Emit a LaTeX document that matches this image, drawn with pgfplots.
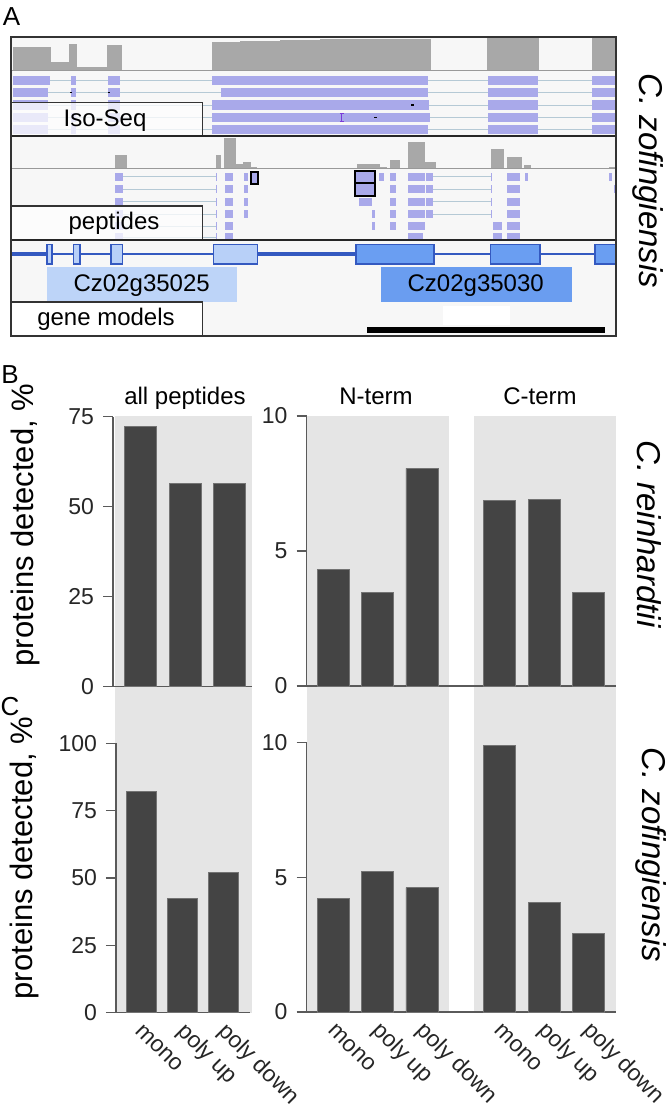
\documentclass[border=0pt]{standalone}
\usepackage{fontspec}
\setmainfont{Liberation Sans}
\usepackage{pgfplots}
\pgfplotsset{compat=1.18}

\definecolor{bgA}{HTML}{F7F7F7}
\definecolor{cov}{HTML}{A8A8A8}
\definecolor{rd}{HTML}{A9A9EA}
\definecolor{rdline}{HTML}{B5C9D5}
\definecolor{gm}{HTML}{3459C0}
\definecolor{exL}{HTML}{B8D0F8}
\definecolor{exD}{HTML}{6A9EF2}
\definecolor{nameL}{HTML}{BDD4F8}
\definecolor{nameD}{HTML}{6A9DF0}
\definecolor{panelbg}{HTML}{E5E5E5}
\definecolor{barc}{HTML}{444444}
\definecolor{axc}{HTML}{5A5A5A}
\definecolor{ins}{HTML}{7A3BD8}

\newcommand{\R}[5]{\addplot[draw=none,fill=#5,forget plot] coordinates {(#1,#2) (#3,#2) (#3,#4) (#1,#4)} -- cycle;}
\newcommand{\RB}[5]{\addplot[#5,forget plot] coordinates {(#1,#2) (#3,#2) (#3,#4) (#1,#4)} -- cycle;}
\newcommand{\HL}[4]{\addplot[#4,forget plot] coordinates {(#1,#3) (#2,#3)};}
% iso-seq row: top, bottom, center, first block end, big block start, big block end
\newcommand{\iso}[6]{%
  \HL{12.7}{615}{#3}{draw=rdline, line width=0.5pt}
  \R{12.7}{#1}{#4}{#2}{rd}
  \R{71}{#1}{76.3}{#2}{rd}
  \R{108}{#1}{120}{#2}{rd}
  \R{#5}{#1}{#6}{#2}{rd}
  \R{487.7}{#1}{538.3}{#2}{rd}
  \R{592.3}{#1}{615}{#2}{rd}}
% peptide rows
\newcommand{\PRa}[2]{\R{#1}{172.7}{#2}{180.7}{rd}}
\newcommand{\PRb}[2]{\R{#1}{185}{#2}{193}{rd}}
\newcommand{\PRc}[2]{\R{#1}{197.7}{#2}{205.7}{rd}}
\newcommand{\PRd}[2]{\R{#1}{210}{#2}{218}{rd}}
\newcommand{\PRe}[2]{\R{#1}{222.3}{#2}{230.3}{rd}}
\newcommand{\PRf}[2]{\R{#1}{233.3}{#2}{240}{rd}}

\newcommand{\fA}{\fontsize{12}{14}\selectfont}
\newcommand{\fT}{\fontsize{12}{14}\selectfont}
\newcommand{\fL}{\fontsize{13}{15}\selectfont}
\newcommand{\fS}{\fontsize{16.5}{19}\selectfont\itshape}
\newcommand{\fY}{\fontsize{15.5}{18}\selectfont}
\newcommand{\fK}{\fontsize{11.5}{13}\selectfont}

\pgfplotsset{
  baraxis/.style={scale only axis, ybar, ymin=0, axis lines*=left,
    axis line style={axc, line width=0.7pt},
    every tick/.style={axc, line width=0.7pt},
    tick align=outside, major tick length=5pt,
    xtick=\empty, ytick pos=left,
    tick label style={font=\fK, text=black!85},
    yticklabel style={xshift=-1pt},
    /pgf/number format/assume math mode=true,
    clip=false, enlargelimits=false},
  barplot/.style={fill=barc, draw=barc!75!white, line width=0.4pt},
  xlab/.style={xtick style={draw=none},
    xticklabel style={rotate=-45, anchor=base west, inner sep=0pt, yshift=-5.5pt, xshift=1pt}}
}

\begin{document}
\begin{tikzpicture}
\path[use as bounding box] (0pt,0pt) rectangle (336pt,-556pt);
\begin{axis}[at={(168pt,-278pt)}, anchor=center, scale only axis,
  width=336pt, height=556pt, xmin=0, xmax=672, ymin=0, ymax=1112,
  y dir=reverse, hide axis, clip=false]
% ---------- grey columns of panels B and C
\R{115}{416}{252}{1012.5}{panelbg}
\R{307}{416}{449}{1012}{panelbg}
\R{474}{416}{616}{1012}{panelbg}
% ---------- panel A
\R{11}{37}{616}{336}{bgA}
% Iso-Seq coverage
\R{12.7}{47}{51}{70.5}{cov}
\R{51}{62.3}{69.3}{70.5}{cov}
\R{69.3}{44}{77.3}{70.5}{cov}
\R{77.3}{67.3}{106.7}{70.5}{cov}
\R{106.7}{45}{122.3}{70.5}{cov}
\R{211.7}{41.5}{240}{70.5}{cov}
\R{240}{40.9}{280}{70.5}{cov}
\R{280}{40.2}{320}{70.5}{cov}
\R{320}{39.4}{370}{70.5}{cov}
\R{370}{38.6}{430.7}{70.5}{cov}
\R{486.7}{38.3}{539.3}{70.5}{cov}
\R{591.7}{38.3}{615}{70.5}{cov}
\HL{11}{616}{70.5}{draw=black!40, line width=0.6pt}
% Iso-Seq reads
\iso{76}{85.4}{80.7}{50}{212.3}{428.3}
\iso{87.7}{97}{92.3}{48.3}{221}{428.3}
\iso{100.4}{109.8}{105.1}{48}{212.3}{429.3}
\iso{112.6}{122}{117.3}{48}{212.3}{430}
\iso{124.5}{133.9}{129.2}{48}{212.3}{428.3}
\R{70.2}{91.6}{72}{93}{black}
\R{108.2}{91.6}{110}{93}{black}
\R{411}{104.3}{413.6}{105.9}{black}
\R{374.4}{116.5}{377}{118.1}{black}
\addplot[draw=ins, line width=0.7pt, forget plot] coordinates {(341.7,113.3) (341.7,121.3)};
\HL{339.9}{343.5}{113.3}{draw=ins, line width=0.7pt}
\HL{339.9}{343.5}{121.3}{draw=ins, line width=0.7pt}
\RB{11}{102.3}{202.3}{136}{fill=white, fill opacity=0.75, draw=black!80, line width=0.8pt}
\HL{11}{616}{136}{draw=black!85, line width=1pt}
% peptide coverage
\R{115}{155}{127}{168.3}{cov}
\R{216}{155}{220.7}{168.3}{cov}
\R{224.3}{137.5}{235.7}{168.3}{cov}
\R{235.7}{164}{243.3}{168.3}{cov}
\R{243.3}{162}{250.7}{168.3}{cov}
\R{250.7}{166.7}{257.3}{168.3}{cov}
\R{356.7}{163.5}{380}{168.3}{cov}
\R{380}{166.7}{386.7}{168.3}{cov}
\R{390}{160}{400}{168.3}{cov}
\R{408.3}{141.7}{425}{168.3}{cov}
\R{425}{162}{436}{168.3}{cov}
\R{491}{149}{504.3}{168.3}{cov}
\R{506.7}{156.7}{522.3}{168.3}{cov}
\R{524.3}{165}{530.7}{168.3}{cov}
\R{609.3}{166.7}{615}{168.3}{cov}
\HL{11}{616}{168.3}{draw=black!40, line width=0.6pt}
% peptide intron lines
\HL{123.3}{216}{176.7}{draw=rdline, line width=0.5pt}
\HL{123.3}{216}{189}{draw=rdline, line width=0.5pt}
\HL{123.3}{216}{201.7}{draw=rdline, line width=0.5pt}
\HL{123.3}{216}{214}{draw=rdline, line width=0.5pt}
\HL{123.3}{216}{226.3}{draw=rdline, line width=0.5pt}
\HL{123.3}{216}{237}{draw=rdline, line width=0.5pt}
\HL{433.3}{491}{176.7}{draw=rdline, line width=0.5pt}
\HL{433.3}{491}{189}{draw=rdline, line width=0.5pt}
\HL{433.3}{491}{201.7}{draw=rdline, line width=0.5pt}
\HL{433.3}{491}{214}{draw=rdline, line width=0.5pt}
% peptide blocks
\PRa{115}{123.3}\PRb{115}{123.3}\PRc{115}{123.3}\PRd{115}{123.3}\PRe{115}{123.3}\PRf{115}{123.3}
\PRa{216}{217.3}\PRb{216}{217.3}\PRc{216}{217.3}\PRd{216}{217.3}\PRe{216}{217.3}\PRf{216}{217.3}
\PRa{225}{233.3}\PRb{225}{233.3}\PRc{225}{233.3}\PRd{225}{233.3}\PRe{225}{233.3}\PRf{225}{233.3}
\PRa{244}{248.3}\PRb{244}{248.3}\PRc{244}{248.3}\PRd{244}{248.3}
\PRc{359.3}{371.7}
\PRd{372.3}{375}\PRe{372.3}{375}
\PRa{379}{384}
\PRa{390.3}{396}\PRb{390.3}{396}\PRc{390.3}{396}\PRd{390.3}{396}\PRe{390.3}{396}
\PRa{408.3}{425}\PRb{408.3}{425}\PRc{408.3}{425}\PRd{408.3}{425}\PRe{408.3}{425}\PRf{408.3}{423}
\PRa{426}{433.3}\PRb{426}{433.3}\PRc{426}{433.3}\PRd{426}{433.3}
\PRa{491}{492.3}\PRb{491}{492.3}\PRc{491}{492.3}\PRd{491}{492.3}
\PRe{492.7}{501.7}\PRf{492.7}{501.7}
\PRa{507}{520}\PRb{507}{520}\PRc{507}{520}\PRd{507}{520}\PRe{507}{520}\PRf{507}{520}
\PRa{525}{528.3}
\PRa{609}{611.7}
\PRb{614}{615.5}
\RB{250.7}{172.3}{257.7}{184}{fill=rd, draw=black, line width=0.9pt}
\RB{355}{171}{375}{183.3}{fill=rd, draw=black, line width=0.9pt}
\RB{355}{183.3}{375}{195.7}{fill=rd, draw=black, line width=0.9pt}
\RB{11}{205.7}{202.3}{240}{fill=white, fill opacity=0.75, draw=black!80, line width=0.8pt}
\HL{11}{616}{240}{draw=black!85, line width=1pt}
% gene models
\HL{51.7}{595}{254}{draw=gm, line width=0.6pt}
\HL{11}{46.7}{254}{draw=gm, line width=2pt}
\HL{257.3}{355.7}{254}{draw=gm, line width=2pt}
\RB{46.7}{244.3}{51.7}{264}{fill=exL, draw=gm, line width=0.8pt}
\RB{73.3}{244.3}{80}{264}{fill=exL, draw=gm, line width=0.8pt}
\RB{111}{244.3}{122.3}{264}{fill=exL, draw=gm, line width=0.8pt}
\RB{213.3}{244.3}{257.3}{264}{fill=exL, draw=gm, line width=0.8pt}
\RB{355.7}{244.3}{434}{264}{fill=exD, draw=gm, line width=0.8pt}
\RB{490.3}{244.3}{540}{264}{fill=exD, draw=gm, line width=0.8pt}
\RB{595}{244.3}{616}{264}{fill=exD, draw=gm, line width=0.8pt}
\R{46.7}{267.3}{237.3}{301.7}{nameL}
\R{380.7}{267.3}{571.7}{301.7}{nameD}
\R{443.3}{306}{510}{325}{white}
\R{367.3}{327.3}{605}{332.7}{black}
\RB{11}{301.7}{202.3}{336}{fill=white, draw=black!80, line width=0.8pt}
\RB{11}{37}{616}{336}{draw=black!80, line width=1pt}
% panel A texts
\node[anchor=base, font=\fA] at (105,126.7) {Iso-Seq};
\node[anchor=base, font=\fA] at (114,229) {peptides};
\node[anchor=base, font=\fA] at (106,325) {gene models};
\node[anchor=base, font=\fA] at (141.7,291.7) {Cz02g35025};
\node[anchor=base, font=\fA] at (475.7,291.7) {Cz02g35030};
% panel letters
\node[anchor=base, font=\fL] at (11.5,25) {A};
\node[anchor=base, font=\fL] at (10,383) {B};
\node[anchor=base, font=\fL] at (10,715) {C};
% titles
\node[anchor=base, font=\fT] at (185,404) {all peptides};
\node[anchor=base, font=\fT] at (376,404) {N-term};
\node[anchor=base, font=\fT] at (540,404) {C-term};
% species
\node[rotate=-90, font=\fS] at (648,181) {C. zofingiensis};
\node[rotate=-90, font=\fS] at (649,534) {C. reinhardtii};
\node[rotate=-90, font=\fS] at (651,855) {C. zofingiensis};
% y labels
\node[rotate=90, font=\fY] at (25,525) {proteins detected, \%};
\node[rotate=90, font=\fY] at (24,858) {proteins detected, \%};
\end{axis}

% ---------- B left
\begin{axis}[baraxis, at={(56.5pt,-343.25pt)}, anchor=south west,
  width=69.5pt, height=135pt, xmin=113, xmax=252, ymax=75,
  ytick={0,25,50,75}, bar width=32]
\addplot[barplot] coordinates {(140.8,72.2) (185.2,56.4) (229.5,56.4)};
\end{axis}
% ---------- B right
\begin{axis}[baraxis, at={(153.25pt,-343pt)}, anchor=south west,
  width=154.75pt, height=135pt, xmin=306.5, xmax=616, ymax=10,
  ytick={0,5,10}, bar width=32]
\addplot[barplot] coordinates {(333.5,4.31) (377.7,3.45) (421.9,8.06) (499.8,6.86) (544,6.91) (588.4,3.45)};
\end{axis}
% ---------- C left
\begin{axis}[baraxis, xlab, at={(58pt,-506.35pt)}, anchor=south west,
  width=67pt, height=134.7pt, xmin=116, xmax=250, ymax=100,
  ytick={0,25,50,75,100}, bar width=30,
  xtick={141,182.2,223.7}, xticklabels={mono,poly up,poly down}]
\addplot[barplot] coordinates {(141,82.0) (182.2,42.3) (223.7,52.2)};
\end{axis}
% ---------- C right
\begin{axis}[baraxis, xlab, at={(153.25pt,-506pt)}, anchor=south west,
  width=154.75pt, height=134.75pt, xmin=306.5, xmax=616, ymax=10,
  ytick={0,5,10}, bar width=32,
  xtick={333.5,377.7,421.9,499.8,544,588.4},
  xticklabels={mono,poly up,poly down,mono,poly up,poly down}]
\addplot[barplot] coordinates {(333.5,4.22) (377.7,5.21) (421.9,4.62) (499.8,9.89) (544,4.06) (588.4,2.9)};
\end{axis}
\end{tikzpicture}
\end{document}
